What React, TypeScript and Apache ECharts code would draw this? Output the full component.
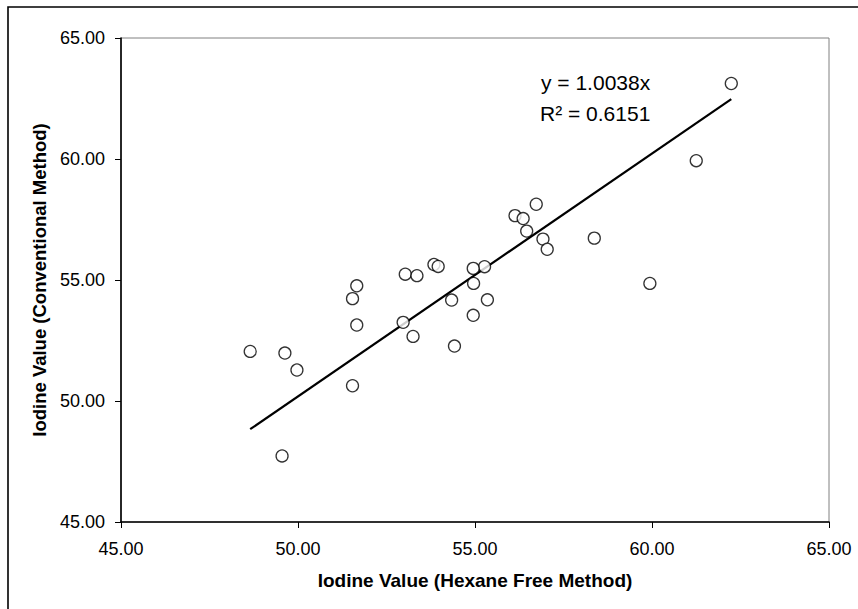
import React, { useEffect, useRef } from "react";
import * as echarts from "echarts";

const hexaneFree: number[] = [
  62.24, 61.25, 59.94, 58.37, 56.73, 56.13, 56.36, 56.46, 56.92, 57.04,
  55.27, 54.95, 54.96, 55.35, 54.95, 54.34, 54.42, 53.84, 53.96, 53.03,
  53.36, 52.97, 53.25, 51.66, 51.54, 51.66, 51.54, 48.65, 49.63, 49.97, 49.55,
];
const conventional: number[] = [
  63.12, 59.93, 54.86, 56.73, 58.13, 57.66, 57.54, 57.02, 56.69, 56.27,
  55.55, 55.48, 54.86, 54.18, 53.54, 54.17, 52.27, 55.64, 55.56, 55.24,
  55.18, 53.25, 52.67, 54.76, 54.23, 53.14, 50.63, 52.05, 51.98, 51.28, 47.73,
];
const slope = 1.0038;
const equationText = "y = 1.0038x";
const r2Text = "R² = 0.6151";
const xTitle = "Iodine Value (Hexane Free Method)";
const yTitle = "Iodine Value (Conventional Method)";

export default function App() {
  const ref = useRef<HTMLDivElement>(null);
  useEffect(() => {
    document.body.style.margin = "0";
    if (!ref.current) return;
    const chart = echarts.init(ref.current, null, { renderer: "svg" });
    const pts = hexaneFree.map((x, i) => [x, conventional[i]]);
    const xmin = Math.min(...hexaneFree);
    const xmax = Math.max(...hexaneFree);
    const font = "Arial, 'Liberation Sans', sans-serif";
    chart.setOption({
      animation: false,
      backgroundColor: "#ffffff",
      grid: {
        left: 121,
        right: 29,
        top: 38,
        bottom: 87,
        show: true,
        borderColor: "#808080",
        borderWidth: 1,
        backgroundColor: "transparent",
      },
      xAxis: {
        type: "value",
        min: 45,
        max: 65,
        interval: 5,
        name: xTitle,
        nameLocation: "middle",
        nameGap: 49,
        nameTextStyle: { fontFamily: font, fontWeight: "bold", fontSize: 19, color: "#000" },
        axisLine: { show: true, onZero: false, lineStyle: { color: "#000", width: 1.6 } },
        axisTick: { show: true, length: 6, lineStyle: { color: "#000", width: 1 } },
        axisLabel: {
          margin: 18,
          fontFamily: font,
          fontSize: 18,
          color: "#000",
          formatter: (v: number) => v.toFixed(2),
        },
        splitLine: { show: false },
      },
      yAxis: {
        type: "value",
        min: 45,
        max: 65,
        interval: 5,
        name: yTitle,
        nameLocation: "middle",
        nameGap: 66,
        nameRotate: 90,
        nameTextStyle: { fontFamily: font, fontWeight: "bold", fontSize: 18.5, color: "#000" },
        axisLine: { show: true, onZero: false, lineStyle: { color: "#000", width: 1.6 } },
        axisTick: { show: true, length: 6, lineStyle: { color: "#000", width: 1 } },
        axisLabel: {
          margin: 16,
          fontFamily: font,
          fontSize: 18,
          color: "#000",
          formatter: (v: number) => v.toFixed(2),
        },
        splitLine: { show: false },
      },
      series: [
        {
          type: "line",
          data: [
            [xmin, slope * xmin],
            [xmax, slope * xmax],
          ],
          showSymbol: false,
          symbol: "none",
          lineStyle: { color: "#000", width: 2.2 },
          silent: true,
          z: 2,
        },
        {
          type: "scatter",
          data: pts,
          symbol: "circle",
          symbolSize: 12,
          itemStyle: { color: "#ffffff", borderColor: "#000", borderWidth: 1.3 },
          z: 3,
        },
      ],
      graphic: [
        {
          type: "rect",
          shape: { x: 8, y: 7, width: 880, height: 640 },
          style: { fill: "none", stroke: "#000", lineWidth: 1.6 },
          silent: true,
          z: 0,
        },
        {
          type: "text",
          x: 541,
          y: 82,
          style: {
            text: equationText,
            font: `21px ${font}`,
            fill: "#000",
            verticalAlign: "middle",
          },
          z: 10,
        },
        {
          type: "text",
          x: 540,
          y: 113,
          style: {
            text: r2Text,
            font: `21px ${font}`,
            fill: "#000",
            verticalAlign: "middle",
          },
          z: 10,
        },
      ],
    });
    return () => chart.dispose();
  }, []);
  return <div ref={ref} style={{ width: 858, height: 609 }} />;
}
